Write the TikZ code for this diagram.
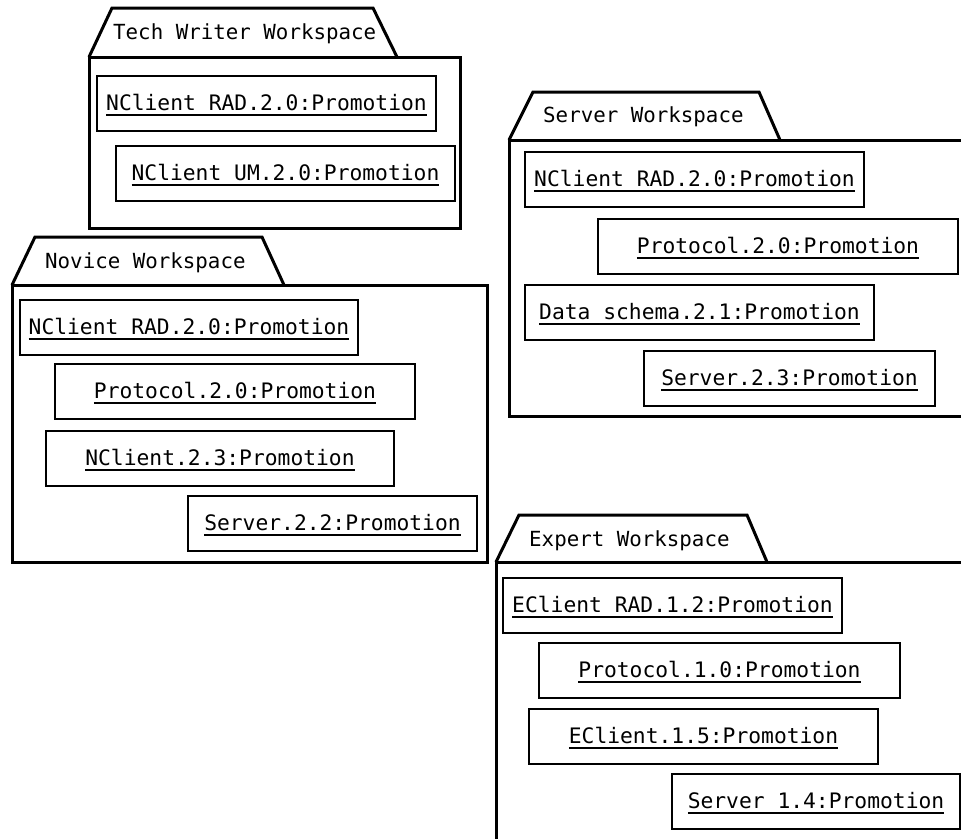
\documentclass[tikz,border=0pt]{standalone}
\usepackage{fontspec}
\setmonofont{DejaVu Sans Mono}
\usepackage{tikz}
\newsavebox{\objbox}
\newcommand{\objname}[1]{\sbox{\objbox}{#1}\rlap{\vrule width\wd\objbox height -4pt depth 6pt}\usebox{\objbox}}

\begin{document}
\begin{tikzpicture}[
  x=1pt, y=-1pt,
  font=\ttfamily\fontsize{21.3}{25}\selectfont,
  pkg/.style={line width=3pt, line join=miter},
  obj/.style={draw, line width=2pt, anchor=north west, inner sep=0pt, minimum height=55pt, minimum width=#1, text height=15pt, text depth=2pt},
  ptitle/.style={anchor=base west, inner sep=0pt, font=\ttfamily\fontsize{20.8}{25}\selectfont},
]
\useasboundingbox (0,0) rectangle (961,838);
\clip (0,0) rectangle (961,838);
% tech writer workspace (top left)
\draw[pkg] (89,57) -- (112,8) -- (373,8) -- (397,57);
\draw[pkg] (89,57) rectangle (460,228);
\node[ptitle] (twT) at (113,39) {Tech Writer Workspace};
\node[obj=339] (tw1) at (96,75) {\objname{NClient RAD.2.0:Promotion}};
\node[obj=339] (tw2) at (115,145) {\objname{NClient UM.2.0:Promotion}};
% novice workspace (left)
\draw[pkg] (12,285) -- (35,237) -- (262,237) -- (284,285);
\draw[pkg] (12,285) rectangle (487,562);
\node[ptitle] (nvT) at (45,268) {Novice Workspace};
\node[obj=338] (nv1) at (19,299) {\objname{NClient RAD.2.0:Promotion}};
\node[obj=360] (nv2) at (54,363) {\objname{Protocol.2.0:Promotion}};
\node[obj=348] (nv3) at (45,430) {\objname{NClient.2.3:Promotion}};
\node[obj=289] (nv4) at (187,495) {\objname{Server.2.2:Promotion}};
% server workspace (right, runs off the page)
\draw[pkg] (509,140) -- (533,92) -- (759,92) -- (780,140);
\draw[pkg] (509,140) rectangle (1000,416);
\node[ptitle] (svT) at (543,122) {Server Workspace};
\node[obj=339] (sv1) at (524,151) {\objname{NClient RAD.2.0:Promotion}};
\node[obj=360] (sv2) at (597,218) {\objname{Protocol.2.0:Promotion}};
\node[obj=349] (sv3) at (524,284) {\objname{Data schema.2.1:Promotion}};
\node[obj=291] (sv4) at (643,350) {\objname{Server.2.3:Promotion}};
% expert workspace (bottom right, runs off the page)
\draw[pkg] (496,562) -- (519,515) -- (747,515) -- (767,562);
\draw[pkg] (496,562) rectangle (1000,900);
\node[ptitle] (exT) at (529,546) {Expert Workspace};
\node[obj=339] (ex1) at (502,577) {\objname{EClient RAD.1.2:Promotion}};
\node[obj=361] (ex2) at (538,642) {\objname{Protocol.1.0:Promotion}};
\node[obj=349] (ex3) at (528,708) {\objname{EClient.1.5:Promotion}};
\node[obj=288] (ex4) at (671,773) {\objname{Server 1.4:Promotion}};
\end{tikzpicture}
\end{document}
